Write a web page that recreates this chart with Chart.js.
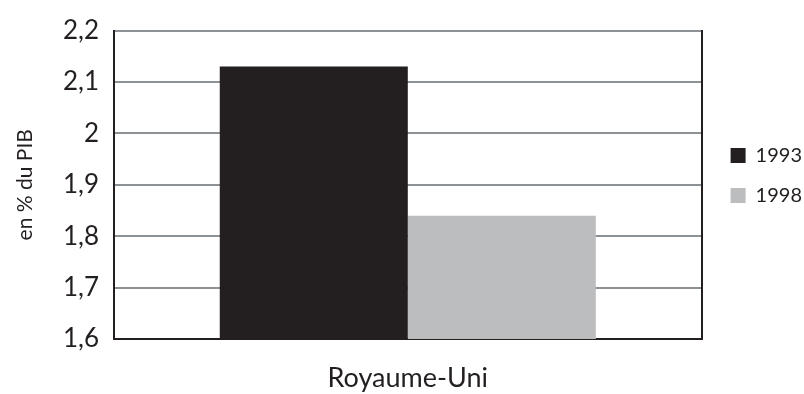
<!DOCTYPE html>
<html>
<head>
<meta charset="utf-8">
<script src="https://cdn.jsdelivr.net/npm/chart.js@4"></script>
<style>
  html, body { margin: 0; padding: 0; background: #ffffff; }
  #wrap { width: 804px; height: 394px; position: relative; }
</style>
</head>
<body>
<div id="wrap"><canvas id="c" width="804" height="394"></canvas></div>
<script>
// Dépenses, en % du PIB
const categories = ['Royaume-Uni'];
const seriesNames = ['1993', '1998'];
const values1993 = [2.13];
const values1998 = [1.84];
const yTickValues = [1.6, 1.7, 1.8, 1.9, 2.0, 2.1, 2.2];
const yTickLabels = ['1,6', '1,7', '1,8', '1,9', '2', '2,1', '2,2'];
const yTitle = 'en % du PIB';

const FONT = 'Lato, "Open Sans", sans-serif';
const DARK = '#231f20';
const GRID = '#8b9194';

// Layout sizes for the axes and the legend offset
const Y_AXIS_WIDTH = 114;
const X_AXIS_HEIGHT = 55;
const LEGEND_SHIFT_X = 7;
const LEGEND_SHIFT_Y = -35;

const legendNudge = {
  id: 'legendNudge',
  afterLayout(chart) {
    const l = chart.legend;
    if (!l) return;
    l.left += LEGEND_SHIFT_X; l.right += LEGEND_SHIFT_X;
    l.top += LEGEND_SHIFT_Y; l.bottom += LEGEND_SHIFT_Y;
  }
};

new Chart(document.getElementById('c'), {
  type: 'bar',
  data: {
    labels: categories,
    datasets: [
      { label: seriesNames[0], data: values1993, backgroundColor: DARK, borderWidth: 0 },
      { label: seriesNames[1], data: values1998, backgroundColor: '#bcbdbf', borderWidth: 0 }
    ]
  },
  options: {
    responsive: false,
    animation: false,
    devicePixelRatio: 1,
    layout: { padding: { left: 0, top: 27, right: -1, bottom: 0 } },
    datasets: { bar: { categoryPercentage: 0.64, barPercentage: 1.0 } },
    plugins: {
      tooltip: { enabled: false },
      legend: {
        position: 'right',
        align: 'center',
        labels: {
          color: DARK,
          font: { family: FONT, size: 20 },
          boxWidth: 15,
          boxHeight: 15,
          padding: 20,
          useBorderRadius: false
        }
      }
    },
    scales: {
      x: {
        afterFit: (axis) => { axis.height = X_AXIS_HEIGHT; },
        grid: { display: false, drawTicks: false },
        border: { display: true, color: DARK, width: 2 },
        ticks: { color: DARK, font: { family: FONT, size: 27 }, padding: 23 }
      },
      y: {
        min: 1.6,
        max: 2.2,
        afterFit: (axis) => { axis.width = Y_AXIS_WIDTH; },
        afterBuildTicks: (axis) => { axis.ticks = yTickValues.map(v => ({ value: v })); },
        ticks: {
          color: DARK,
          font: { family: FONT, size: 26 },
          padding: 15,
          callback: (value, index) => yTickLabels[index]
        },
        grid: { color: GRID, lineWidth: 2, drawTicks: false },
        border: { display: true, color: DARK, width: 2 },
        title: {
          display: true,
          text: yTitle,
          color: DARK,
          font: { family: FONT, size: 21 },
          padding: { top: 13, bottom: 0 }
        }
      },
      yRight: {
        position: 'right',
        min: 1.6,
        max: 2.2,
        afterFit: (axis) => { axis.width = 2; },
        ticks: { display: false },
        grid: { display: false, drawTicks: false },
        border: { display: true, color: DARK, width: 2 }
      }
    }
  },
  plugins: [legendNudge]
});
</script>
</body>
</html>
